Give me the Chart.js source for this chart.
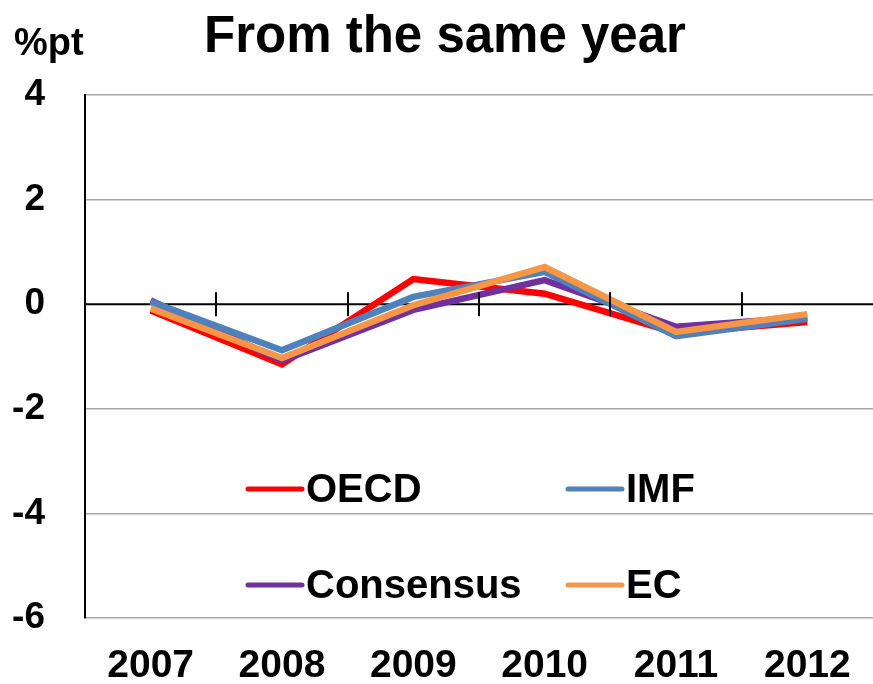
<!DOCTYPE html>
<html>
<head>
<meta charset="utf-8">
<script src="https://cdn.jsdelivr.net/npm/chart.js@4/dist/chart.umd.min.js"></script>
<style>
html,body{margin:0;padding:0;background:#fff;}
#wrap{width:873px;height:684px;position:relative;}
</style>
</head>
<body>
<div id="wrap"><canvas id="c" width="873" height="684"></canvas></div>
<script>
const categories = ['2007', '2008', '2009', '2010', '2011', '2012'];
const oecd      = [-0.12, -1.15,  0.48, 0.20, -0.55, -0.34];
const imf       = [ 0.05, -0.88,  0.14, 0.62, -0.61, -0.28];
const consensus = [ 0.07, -1.08, -0.11, 0.46, -0.43, -0.25];
const ec        = [-0.08, -1.03, -0.02, 0.71, -0.53, -0.19];
const yMin = -6, yMax = 4, yStep = 2;
const titleText = 'From the same year';
const unitText = '%pt';

const FONT = '"Liberation Sans", Arial, sans-serif';

const headerPlugin = {
  id: 'header',
  afterDraw(chart) {
    const ctx = chart.ctx;
    ctx.save();
    ctx.fillStyle = '#000';
    ctx.textBaseline = 'alphabetic';
    ctx.font = 'bold 51px ' + FONT;
    ctx.textAlign = 'center';
    ctx.fillText(titleText, 445, 52);
    ctx.font = 'bold 38px ' + FONT;
    ctx.textAlign = 'left';
    ctx.fillText(unitText, 14, 55);
    ctx.restore();
  }
};

const zeroTicksPlugin = {
  id: 'zeroTicks',
  afterDatasetsDraw(chart) {
    const ctx = chart.ctx, xs = chart.scales.x, ys = chart.scales.y;
    const y0 = ys.getPixelForValue(0);
    ctx.save();
    ctx.strokeStyle = '#000';
    ctx.lineWidth = 2;
    ctx.beginPath();
    for (let i = 0; i < categories.length - 1; i++) {
      const x = Math.round((xs.getPixelForValue(i) + xs.getPixelForValue(i + 1)) / 2);
      ctx.moveTo(x, y0 - 12);
      ctx.lineTo(x, y0 + 12);
    }
    ctx.stroke();
    ctx.restore();
  },
  beforeDatasetsDraw(chart) {
    const ctx = chart.ctx, ys = chart.scales.y;
    const y0 = ys.getPixelForValue(0);
    ctx.save();
    ctx.strokeStyle = '#000';
    ctx.lineWidth = 2;
    ctx.beginPath();
    ctx.moveTo(chart.chartArea.left, y0);
    ctx.lineTo(chart.width, y0);
    ctx.stroke();
    ctx.restore();
  }
};

const legendPlugin = {
  id: 'gridLegend',
  afterDraw(chart) {
    const ctx = chart.ctx;
    const order = ['OECD', 'IMF', 'Consensus', 'EC'];
    const cols = [248, 568], rows = [489, 585];
    ctx.save();
    ctx.font = 'bold 40px ' + FONT;
    ctx.textBaseline = 'middle';
    ctx.textAlign = 'left';
    order.forEach((name, k) => {
      const ds = chart.data.datasets.find(d => d.label === name);
      const x = cols[k % 2], y = rows[Math.floor(k / 2)];
      ctx.strokeStyle = ds.borderColor;
      ctx.lineWidth = 5;
      ctx.lineCap = 'round';
      ctx.beginPath();
      ctx.moveTo(x, y);
      ctx.lineTo(x + 54, y);
      ctx.stroke();
      ctx.fillStyle = '#000';
      ctx.fillText(name, x + 58, y + 2);
    });
    ctx.restore();
  }
};

new Chart(document.getElementById('c'), {
  type: 'line',
  data: {
    labels: categories,
    datasets: [
      { label: 'OECD', data: oecd, borderColor: '#FF0000', order: 3 },
      { label: 'IMF', data: imf, borderColor: '#4F81BD', order: 1 },
      { label: 'Consensus', data: consensus, borderColor: '#7030A0', order: 2 },
      { label: 'EC', data: ec, borderColor: '#F79646', order: 0 }
    ].map(d => Object.assign(d, {
      borderWidth: 6.5, pointRadius: 0, pointHoverRadius: 0, tension: 0,
      fill: false, borderJoinStyle: 'miter', borderCapStyle: 'butt'
    }))
  },
  options: {
    responsive: false,
    devicePixelRatio: 1,
    animation: false,
    layout: { padding: { top: 95, left: 0, right: -3, bottom: 0 } },
    plugins: { legend: { display: false }, title: { display: false }, tooltip: { enabled: false } },
    scales: {
      x: {
        offset: true,
        grid: { display: false, drawTicks: false },
        border: { display: false },
        ticks: { color: '#000', font: { family: FONT, size: 39, weight: 'bold', lineHeight: 1 }, padding: 29, maxRotation: 0, autoSkip: false },
        afterFit(scale) { scale.height = 66; scale.paddingLeft = 0; scale.paddingRight = 0; }
      },
      y: {
        min: yMin, max: yMax,
        grid: {
          drawTicks: false,
          color: ctx => ctx.tick && ctx.tick.value === 0 ? 'rgba(0,0,0,0)' : '#A6A6A6',
          lineWidth: 1.5
        },
        border: { display: true, color: '#000', width: 2 },
        ticks: { stepSize: yStep, color: '#000', font: { family: FONT, size: 37, weight: 'bold', lineHeight: 1 }, padding: 40 },
        afterFit(scale) { scale.width = 85; scale.paddingTop = 0; scale.paddingBottom = 0; }
      }
    }
  },
  plugins: [zeroTicksPlugin, legendPlugin, headerPlugin]
});
</script>
</body>
</html>
